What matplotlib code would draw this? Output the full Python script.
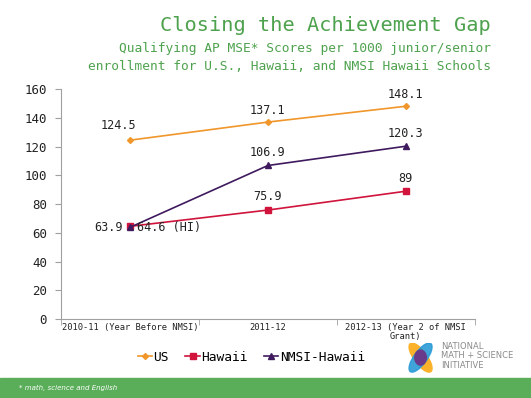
import matplotlib.pyplot as plt
from matplotlib.patches import Ellipse, Rectangle

years = ['2010-11 (Year Before NMSI)', '2011-12', '2012-13 (Year 2 of NMSI\nGrant)']
us = [124.5, 137.1, 148.1]
hawaii = [64.6, 75.9, 89]
nmsi_hawaii = [63.9, 106.9, 120.3]

green = '#4ea24e'
mono = 'DejaVu Sans Mono'

fig = plt.figure(figsize=(5.31, 3.98), dpi=100)
ax = fig.add_axes([0.115, 0.198, 0.779, 0.578])

x = range(len(years))
ax.plot(x, us, color='#f0962a', marker='D', markersize=3, lw=1.2, label='US')
ax.plot(x, hawaii, color='#d0143c', marker='s', markersize=5, lw=1.2, label='Hawaii')
ax.plot(x, nmsi_hawaii, color='#3f1a5e', marker='^', markersize=5, lw=1.2, label='NMSI-Hawaii')

lab = dict(family=mono, fontsize=8.5, color='#222222')
ax.annotate(f'{us[0]}', (0, us[0]), xytext=(-8, 8), textcoords='offset points', ha='center', **lab)
for i in (1, 2):
    ax.annotate(f'{us[i]}', (i, us[i]), xytext=(0, 6), textcoords='offset points', ha='center', **lab)
    ax.annotate(f'{hawaii[i]:g}', (i, hawaii[i]), xytext=(0, 7), textcoords='offset points', ha='center', **lab)
    ax.annotate(f'{nmsi_hawaii[i]}', (i, nmsi_hawaii[i]), xytext=(0, 7), textcoords='offset points', ha='center', **lab)
ax.annotate(f'{nmsi_hawaii[0]}', (0, nmsi_hawaii[0]), xytext=(-5, 0), textcoords='offset points',
            ha='right', va='center', **lab)
ax.annotate(f'{hawaii[0]} (HI)', (0, hawaii[0]), xytext=(5, -1), textcoords='offset points',
            ha='left', va='center', **lab)

ax.set_xlim(-0.5, 2.5)
ax.set_ylim(0, 160)
ax.set_yticks(range(0, 161, 20))
ax.set_xticks(list(x))
ax.set_xticklabels(years, family=mono, fontsize=6.3, color='#222222', linespacing=1.0)
ax.set_xticks([-0.5, 0.5, 1.5, 2.5], minor=True)
ax.tick_params(axis='x', which='major', length=0, pad=3)
ax.tick_params(axis='x', which='minor', length=4, color='#a0a0a0')
ax.tick_params(axis='y', length=4, color='#a0a0a0', labelsize=9, labelcolor='#222222', pad=6)
for t in ax.get_yticklabels():
    t.set_family(mono)
for s in ('top', 'right'):
    ax.spines[s].set_visible(False)
for s in ('left', 'bottom'):
    ax.spines[s].set_color('#a0a0a0')

leg = ax.legend(loc='center', bbox_to_anchor=(0.46, -0.165), ncol=3, frameon=False,
                prop={'family': mono, 'size': 9.3}, handlelength=1.1, handletextpad=0.1,
                columnspacing=1.3)

fig.text(0.925, 0.935, 'Closing the Achievement Gap', ha='right', va='center',
         family=mono, fontsize=14.6, color=green)
fig.text(0.925, 0.878, 'Qualifying AP MSE* Scores per 1000 junior/senior', ha='right', va='center',
         family=mono, fontsize=9.3, color=green)
fig.text(0.925, 0.832, 'enrollment for U.S., Hawaii, and NMSI Hawaii Schools', ha='right', va='center',
         family=mono, fontsize=9.3, color=green)

# footer band
fig.patches.append(Rectangle((0, 0), 1, 0.05, transform=fig.transFigure, color='#5aae5a', zorder=0))
fig.text(0.035, 0.025, '* math, science and English', ha='left', va='center',
         fontsize=5, style='italic', color='white')

# logo
lax = fig.add_axes([0.763, 0.064, 0.058, 0.075])
lax.set_xlim(-1, 1)
lax.set_ylim(-1, 1)
lax.axis('off')
lax.add_patch(Ellipse((0, 0), 0.85, 2.3, angle=35, color='#fbb12a'))
lax.add_patch(Ellipse((0, 0), 0.85, 2.3, angle=-35, color='#2a9ad6', alpha=0.9))
lax.add_patch(Ellipse((0, 0), 0.75, 1.0, angle=0, color='#6a3a8a'))
fig.text(0.831, 0.106, 'NATIONAL\nMATH + SCIENCE\nINITIATIVE', ha='left', va='center',
         fontsize=6, color='#8a8a8a', linespacing=1.1)

fig.savefig('out.png', dpi=100)
